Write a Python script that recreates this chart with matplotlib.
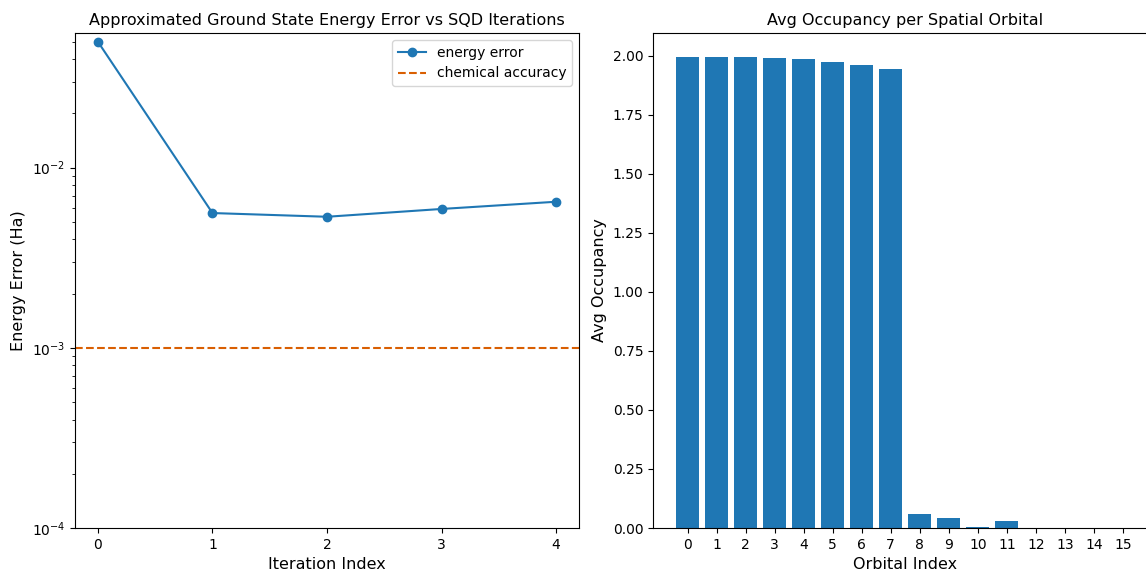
import numpy as np
import matplotlib
matplotlib.use("Agg")
import matplotlib.pyplot as plt

# energy error per SQD iteration (Ha)
iterations = [0, 1, 2, 3, 4]
energy_error = [0.0500, 0.00560, 0.00534, 0.00590, 0.00647]
chem_accuracy = 1e-3

# average occupancy per spatial orbital
orbitals = list(range(16))
avg_occupancy = [1.996, 1.996, 1.995, 1.992, 1.984, 1.971, 1.960, 1.945,
                 0.061, 0.041, 0.004, 0.029, 0.0, 0.0, 0.0, 0.0]

plt.rcParams['font.size'] = 10
big = 11.5

W, H = 1146, 569
fig = plt.figure(figsize=(W / 100, H / 100), dpi=100)

ax1 = fig.add_axes([75 / W, 1 - 528 / H, 504 / W, 495 / H])
ax1.plot(iterations, energy_error, marker='o', label='energy error')
ax1.axhline(chem_accuracy, color='#d95f02', linestyle='--', label='chemical accuracy')
ax1.set_yscale('log')
# top limit from the error series only, 5% margin in log space
lo, hi = np.log10(min(energy_error)), np.log10(max(energy_error))
ax1.set_ylim(1e-4, 10 ** (hi + 0.05 * (hi - lo)))
ax1.set_xticks(iterations)
ax1.set_title('Approximated Ground State Energy Error vs SQD Iterations', fontsize=big)
ax1.set_xlabel('Iteration Index', fontsize=big)
ax1.set_ylabel('Energy Error (Ha)', fontsize=big)
ax1.legend(loc='upper right')

ax2 = fig.add_axes([653 / W, 1 - 528 / H, 504.5 / W, 495 / H])
ax2.bar(orbitals, avg_occupancy)
ax2.set_xticks(orbitals)
ax2.set_title('Avg Occupancy per Spatial Orbital', fontsize=big)
ax2.set_xlabel('Orbital Index', fontsize=big)
ax2.set_ylabel('Avg Occupancy', fontsize=big)

fig.savefig('out.png', dpi=100)
